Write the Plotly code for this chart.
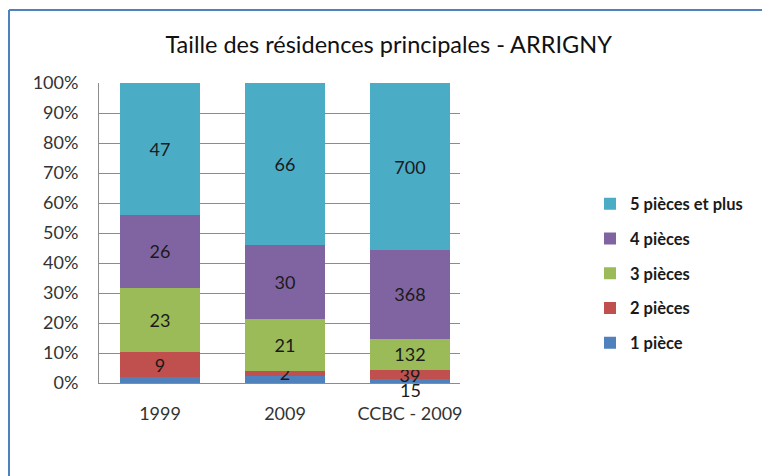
import plotly.graph_objects as go

# Categories and series (number of main residences by number of rooms)
categories = ["1999", "2009", "CCBC - 2009"]
series_names = ["1 pièce", "2 pièces", "3 pièces", "4 pièces", "5 pièces et plus"]
one_room = [2, 3, 15]
two_rooms = [9, 2, 39]
three_rooms = [23, 21, 132]
four_rooms = [26, 30, 368]
five_plus = [47, 66, 700]
series_values = [one_room, two_rooms, three_rooms, four_rooms, five_plus]
colors = ["#4F81BD", "#C0504D", "#9BBB59", "#8064A2", "#4BACC6"]

# Which value labels are displayed inside the bars, per series
show_label = [
    [False, False, False],
    [True, True, True],
    [True, True, True],
    [True, True, True],
    [True, True, True],
]

FONT = "Lato"
TXT = "#1a1a1a"

fig = go.Figure()
n = len(series_names)
for i, (name, vals, col) in enumerate(zip(series_names, series_values, colors)):
    texts = [str(v) if s else "" for v, s in zip(vals, show_label[i])]
    fig.add_trace(go.Bar(
        name=name,
        x=list(range(len(categories))),
        y=vals,
        marker=dict(color=col, line=dict(width=0)),
        text=texts,
        texttemplate="%{text}",
        textposition="inside",
        insidetextanchor="middle",
        constraintext="none",
        textangle=0,
        textfont=dict(family=FONT, size=18, color=TXT),
        legendgroup=name,
        legendrank=n - i,
        hoverinfo="name+y",
    ))

# The smallest CCBC segment has its label just below the bar
fig.add_annotation(
    x=2, y=0, xref="x", yref="y",
    text=str(one_room[2]), showarrow=False,
    yanchor="top", yshift=6,
    font=dict(family=FONT, size=18, color=TXT),
)

W, H = 762, 476
L, R, T, B = 99, 302, 83, 93
pw, ph = W - L - R, H - T - B

def px_x(p):
    return (p - L) / pw

def px_y(p):
    return (H - B - p) / ph

# Outer chart frame (left and top edges visible)
frame = dict(color="#4F81BD", width=2)
fig.add_shape(type="line", xref="paper", yref="paper",
              x0=px_x(9), x1=px_x(W + 10), y0=px_y(10), y1=px_y(10), line=frame)
fig.add_shape(type="line", xref="paper", yref="paper",
              x0=px_x(9), x1=px_x(9), y0=px_y(10), y1=px_y(H + 10), line=frame)

fig.update_layout(
    width=W, height=H,
    margin=dict(l=L, r=R, t=T, b=B),
    paper_bgcolor="white",
    plot_bgcolor="white",
    barmode="stack",
    barnorm="percent",
    bargap=0.36,
    title=dict(
        text="Taille des résidences principales - ARRIGNY",
        x=0.51, xref="container", xanchor="center",
        y=1 - 45 / H, yref="container", yanchor="middle",
        font=dict(family=FONT, size=23.5, color="#111111"),
    ),
    legend=dict(
        x=px_x(590), xanchor="left",
        y=px_y(186.5), yanchor="top",
        traceorder="grouped",
        tracegroupgap=10.3,
        font=dict(family=FONT, size=16.5, color=TXT, weight="bold"),
        bgcolor="rgba(0,0,0,0)",
        itemwidth=30,
    ),
    font=dict(family=FONT, color=TXT),
)

fig.update_yaxes(
    range=[0, 100],
    tickmode="array",
    tickvals=list(range(0, 101, 10)),
    ticktext=[f"{v}%" for v in range(0, 101, 10)],
    showgrid=True, gridcolor="#8c8c8c", gridwidth=1,
    showline=True, linecolor="#8c8c8c", linewidth=1,
    zeroline=False,
    ticks="", ticklabelstandoff=16,
    tickfont=dict(family=FONT, size=18, color="#333333"),
)
fig.update_xaxes(
    range=[-0.488, 2.4],
    tickmode="array",
    tickvals=list(range(len(categories))),
    ticktext=categories,
    showline=True, linecolor="#8c8c8c", linewidth=1,
    showgrid=False, ticks="", zeroline=False,
    ticklabelstandoff=14,
    tickfont=dict(family=FONT, size=18, color="#333333"),
)

fig.write_html("out.html")
